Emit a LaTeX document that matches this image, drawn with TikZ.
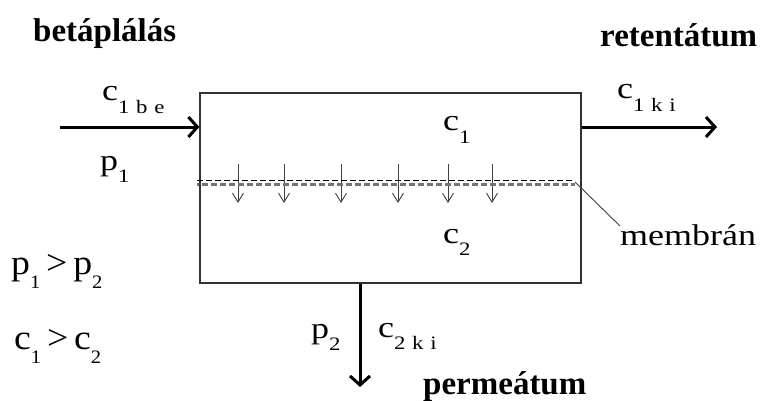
\documentclass[tikz,border=0pt]{standalone}
\usepackage{fontspec}
\setmainfont{Liberation Serif}
\newfontfamily\widefont[FakeStretch=1.2]{Liberation Serif}
\newfontfamily\relfont[FakeStretch=1.08]{Liberation Serif}
\usetikzlibrary{arrows.meta, positioning}
\newcommand{\ix}[1]{\raisebox{-0.42em}{\fontsize{19}{19}\selectfont #1}}

\begin{document}
\begin{tikzpicture}[x=1pt, y=-1pt,
  sym/.style={font=\widefont\fontsize{30}{30}\selectfont, inner sep=0pt, anchor=base west},
  rel/.style={font=\relfont\fontsize{35}{35}\selectfont, inner sep=0pt, anchor=base west},
  title/.style={font=\bfseries\fontsize{33}{33}\selectfont, inner sep=0pt, anchor=base west},
  flow/.style={-{Straight Barb[length=9pt,width=20pt]}, line width=3pt},
  drop/.style={-{Straight Barb[length=9pt,width=11pt]}, line width=0.9pt, black!75},
  wall/.style={draw, line width=1.2pt, black!80, minimum width=381pt, minimum height=190pt}
]
  \useasboundingbox[fill=white] (0,0) rectangle (762,401);

  % membrane module
  \node[wall] (modul) at (390.5,188) {};

  % streams
  \coordinate (be)   at (60,127);
  \coordinate (ki)   at (717,127);
  \coordinate (perm) at (360,387);
  \draw[flow] (be) -- (be -| modul.west);
  \draw[flow] (modul.east |- ki) -- (ki);
  \draw[flow] (perm |- modul.south) -- (perm);

  % membrane
  \coordinate (mbal)   at (197,182);
  \coordinate (mjobb)  at (575,182);
  \foreach \x in {238,284,341,398,448,492}
    \draw[drop] (\x,164) -- (\x,203);
  \draw[line width=1.8pt, black, dash pattern=on 6pt off 3pt] ([yshift=1.5pt]mbal) -- ([yshift=1.5pt]mjobb);
  \draw[line width=2.6pt, black!55, dash pattern=on 6pt off 3pt, dash phase=4pt] ([yshift=-2.5pt]mbal) -- ([yshift=-2.5pt]mjobb);
  \coordinate (jel) at (620,226);
  \draw[line width=0.9pt, black!75] (mjobb) -- (jel);

  % labels
  \node[title] (betap) at (33,42)  {betáplálás};
  \node[title] (reten) at (600,47) {retentátum};
  \node[title] (perme) at (423,394) {permeátum};
  \node[sym] (c1be) at (102,101) {c\ix{1\hspace{.35em}b\hspace{.35em}e}};
  \node[sym] (p1)   at (100,170) {p\ix{1}};
  \node[sym] (c1)   at (443,131) {c\ix{1}};
  \node[sym] (c1ki) at (617,99) {c\ix{1\hspace{.35em}k\hspace{.35em}i}};
  \node[sym] (membr) at (620,245) {membrán};
  \node[sym] (c2)   at (443,243) {c\ix{2}};
  \node[rel] (pnagy) at (11,274) {p\ix{1}\,>\,p\ix{2}};
  \node[rel] (cnagy) at (14,349) {c\ix{1}\,>\,c\ix{2}};
  \node[sym] (p2)   at (311,338) {p\ix{2}};
  \node[sym] (c2ki) at (378,337) {c\ix{2\hspace{.35em}k\hspace{.35em}i}};
\end{tikzpicture}
\end{document}
